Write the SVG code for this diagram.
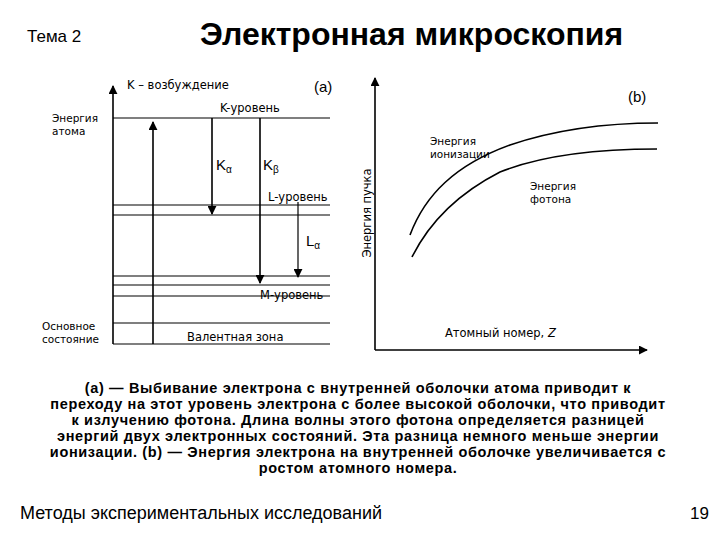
<svg xmlns="http://www.w3.org/2000/svg" width="720" height="540" viewBox="0 0 720 540">
<style>
.ln{stroke:#000;stroke-width:1.2;fill:none}
.lv{stroke:#000;stroke-width:1.6;fill:none}
.t{font-family:"Liberation Sans",Arial,sans-serif;fill:#000}
.s{font-family:"DejaVu Sans","Liberation Sans",sans-serif;font-size:11.5px}
.s2{font-family:"DejaVu Sans","Liberation Sans",sans-serif;font-size:10.5px}
.cap{font-size:14.5px;font-weight:bold;text-anchor:middle;letter-spacing:0.65px}
</style>
<defs>
<marker id="ahb" viewBox="0 0 10 10" refX="9" refY="5" markerWidth="9" markerHeight="9" orient="auto" markerUnits="userSpaceOnUse">
<path d="M0,0 L10,5 L0,10 z" fill="#000"/>
</marker>
</defs>
<rect width="720" height="540" fill="#fff"/>
<g id="header">
<text class="t" x="27" y="42" font-size="17">Тема 2</text>
<text class="t" x="200" y="45" font-size="32" font-weight="bold">Электронная микроскопия</text>
</g>
<g id="diagram-a">
<g id="levels">
<line class="ln" x1="113" y1="118" x2="330" y2="118" stroke-width="1.6"/>
<line class="ln" x1="113" y1="205" x2="330" y2="205"/>
<line class="ln" x1="113" y1="215" x2="330" y2="215"/>
<line class="ln" x1="113" y1="276" x2="330" y2="276"/>
<line class="ln" x1="113" y1="285" x2="330" y2="285"/>
<line class="ln" x1="113" y1="296" x2="330" y2="296"/>
<line class="ln" x1="113" y1="323" x2="330" y2="323"/>
<line class="ln" x1="113" y1="344" x2="330" y2="344"/>
</g>
<g id="transitions">
<line class="lv" x1="113" y1="344" x2="113" y2="86" marker-end="url(#ahb)"/>
<line class="lv" x1="153" y1="344" x2="153" y2="122" marker-end="url(#ahb)"/>
<line class="lv" x1="212" y1="118" x2="212" y2="214" marker-end="url(#ahb)"/>
<line class="lv" x1="260" y1="118" x2="260" y2="283" marker-end="url(#ahb)"/>
<line class="ln" x1="298" y1="202" x2="298" y2="277" marker-end="url(#ahb)"/>
</g>
<g id="labels-a">
<text class="t s" x="127" y="89">K – возбуждение</text>
<text class="t" x="314" y="92" font-size="15">(a)</text>
<text class="t s" x="220" y="112">K-уровень</text>
<text class="t s2" x="52" y="122">Энергия</text>
<text class="t s2" x="52" y="135">атома</text>
<text class="t" x="216" y="170" font-size="15">K<tspan font-size="10" dy="3">α</tspan></text>
<text class="t" x="263" y="170" font-size="15">K<tspan font-size="10" dy="3">β</tspan></text>
<text class="t s" x="268" y="201">L-уровень</text>
<text class="t" x="306" y="246" font-size="15">L<tspan font-size="10" dy="3">α</tspan></text>
<text class="t s" x="260" y="299">M-уровень</text>
<text class="t s2" x="42" y="330">Основное</text>
<text class="t s2" x="42" y="343">состояние</text>
<text class="t s" x="187" y="341">Валентная зона</text>
</g>
</g>
<g id="diagram-b">
<g id="axes">
<line class="lv" x1="375" y1="350" x2="375" y2="78" marker-end="url(#ahb)"/>
<line class="lv" x1="375" y1="350" x2="647" y2="350" marker-end="url(#ahb)"/>
</g>
<g id="curves">
<path class="lv" d="M410,235 C425,195 455,165 510,145 C560,128 610,123 658,123"/>
<path class="lv" d="M412,257 C428,225 455,195 500,172 C550,152 610,149 657,149"/>
</g>
<g id="labels-b">
<text class="t" x="628" y="102" font-size="15">(b)</text>
<text class="t s2" x="430" y="145">Энергия</text>
<text class="t s2" x="430" y="158">ионизации</text>
<text class="t s2" x="530" y="190">Энергия</text>
<text class="t s2" x="530" y="203">фотона</text>
<text class="t s" text-anchor="middle" transform="translate(371,213) rotate(-90)">Энергия пучка</text>
<text class="t s" x="445" y="337">Атомный номер, <tspan font-style="italic">Z</tspan></text>
</g>
</g>
<g id="caption">
<text class="t cap" x="358" y="393">(a) — Выбивание электрона с внутренней оболочки атома приводит к</text>
<text class="t cap" x="358" y="409">переходу на этот уровень электрона с более высокой оболочки, что приводит</text>
<text class="t cap" x="358" y="425">к излучению фотона. Длина волны этого фотона определяется разницей</text>
<text class="t cap" x="358" y="441">энергий двух электронных состояний. Эта разница немного меньше энергии</text>
<text class="t cap" x="358" y="457">ионизации. (b) — Энергия электрона на внутренней оболочке увеличивается с</text>
<text class="t cap" x="358" y="473">ростом атомного номера.</text>
</g>
<g id="footer">
<text class="t" x="20" y="519" font-size="18">Методы экспериментальных исследований</text>
<text class="t" x="690" y="519" font-size="17">19</text>
</g>
</svg>
